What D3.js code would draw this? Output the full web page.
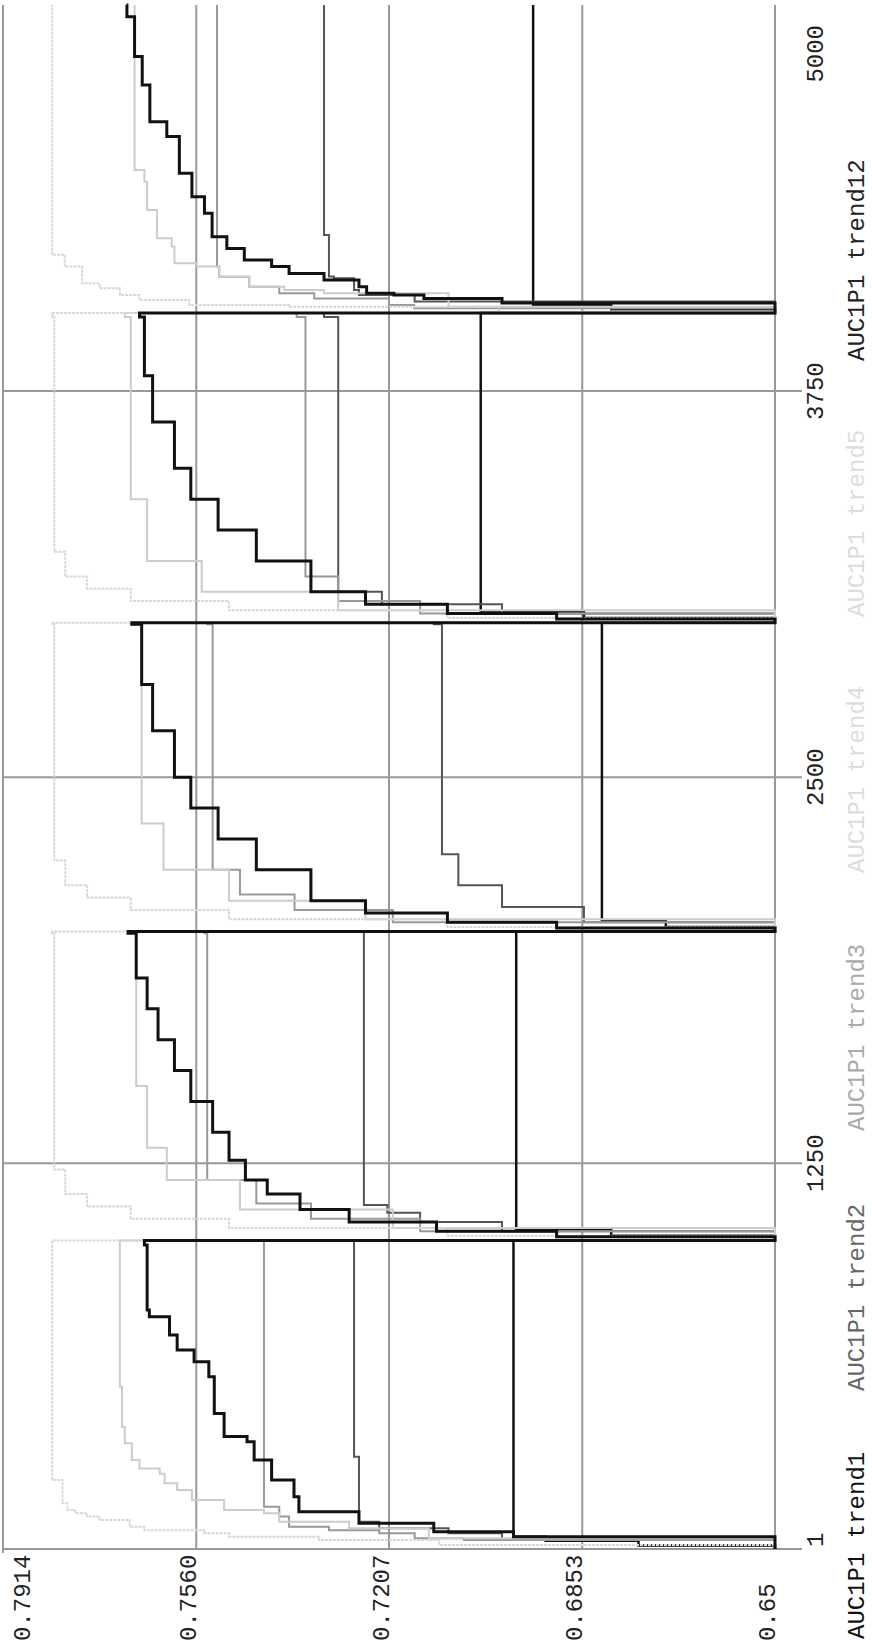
<!DOCTYPE html>
<html>
<head>
<meta charset="utf-8">
<script src="https://cdn.jsdelivr.net/npm/d3@7"></script>
<style>
  body { margin: 0; background: #fff; }
  svg { display: block; }
  text { font-family: "Liberation Mono", "DejaVu Sans Mono", monospace; font-size: 24px; }
</style>
</head>
<body>
<div id="wrapper"></div>
<script>
// axis ticks
const xTicks = [1, 1250, 2500, 3750, 5000]
const yTicks = [0.65, 0.6853, 0.7207, 0.7560, 0.7914]

// series: [iteration, AUC] break points, 5 runs of 1000 iterations
const trend1 = [
  [1, 0.65], [12, 0.675], [28, 0.692], [41, 0.6979], [995, 0.6979],
  [1000, 0.65], [1015, 0.68], [1034, 0.6974], [1995, 0.6974],
  [2000, 0.65], [2015, 0.67], [2035, 0.6817], [2995, 0.6817],
  [3000, 0.65], [3015, 0.685], [3035, 0.7039], [3990, 0.7039],
  [4003, 0.65], [4015, 0.68], [4029, 0.6943], [5000, 0.6943]
]
const trend2 = [
  [1, 0.65], [30, 0.70], [52, 0.7098], [68, 0.7225], [89, 0.7262], [300, 0.7271], [995, 0.7271],
  [1000, 0.65], [1030, 0.70], [1060, 0.715], [1090, 0.721], [1115, 0.7253], [1995, 0.7253],
  [2000, 0.65], [2030, 0.685], [2080, 0.700], [2150, 0.708], [2250, 0.711], [2995, 0.7125],
  [3000, 0.65], [3030, 0.70], [3060, 0.722], [3100, 0.730], [3990, 0.7326],
  [4003, 0.65], [4040, 0.716], [4061, 0.7262], [4077, 0.7271], [4115, 0.7308], [4121, 0.7317], [4255, 0.7326], [5000, 0.7326]
]
const trend3 = [
  [1, 0.65], [30, 0.707], [36, 0.716], [52, 0.7225], [62, 0.7317], [73, 0.739], [106, 0.7408], [138, 0.7436], [995, 0.7436],
  [1000, 0.65], [1030, 0.715], [1070, 0.735], [1120, 0.745], [1196, 0.754], [1995, 0.7545],
  [2000, 0.65], [2030, 0.72], [2070, 0.738], [2120, 0.748], [2200, 0.753], [2995, 0.754],
  [3000, 0.65], [3030, 0.715], [3070, 0.730], [3150, 0.736], [3990, 0.7376],
  [4003, 0.65], [4018, 0.7161], [4029, 0.7207], [4050, 0.7344], [4067, 0.7408], [4088, 0.7463], [4120, 0.7518], [4153, 0.7522], [5000, 0.7522]
]
const trend4 = [
  [1, 0.65], [36, 0.7134], [68, 0.728], [89, 0.7408], [117, 0.7436], [127, 0.7509], [160, 0.7568], [192, 0.7595],
  [214, 0.7618], [245, 0.7627], [262, 0.7664], [289, 0.7678], [343, 0.7691], [397, 0.7696], [526, 0.77], [995, 0.77],
  [1000, 0.65], [1040, 0.72], [1100, 0.748], [1196, 0.7614], [1300, 0.765], [1500, 0.767], [1995, 0.768],
  [2000, 0.65], [2040, 0.725], [2100, 0.750], [2200, 0.762], [2350, 0.766], [2995, 0.768],
  [3000, 0.65], [3040, 0.73], [3100, 0.755], [3200, 0.765], [3400, 0.768], [3990, 0.7691],
  [4003, 0.65], [4023, 0.7098], [4067, 0.7326], [4077, 0.7399], [4088, 0.7463], [4120, 0.7518], [4153, 0.7559],
  [4164, 0.76], [4218, 0.7605], [4245, 0.7632], [4309, 0.7632], [4336, 0.765], [4428, 0.7655], [4466, 0.7673], [5000, 0.7673]
]
const trend5 = [
  [1, 0.65], [14, 0.7115], [30, 0.7335], [41, 0.75], [52, 0.7546], [62, 0.7655], [73, 0.7682], [95, 0.7737],
  [106, 0.776], [117, 0.7782], [127, 0.7796], [149, 0.7805], [224, 0.7824], [995, 0.7824],
  [1000, 0.65], [1015, 0.71], [1040, 0.75], [1070, 0.768], [1110, 0.776], [1150, 0.780], [1230, 0.782], [1995, 0.7824],
  [2000, 0.65], [2015, 0.71], [2040, 0.75], [2070, 0.768], [2110, 0.776], [2150, 0.780], [2230, 0.782], [2995, 0.7824],
  [3000, 0.65], [3015, 0.71], [3040, 0.75], [3070, 0.768], [3110, 0.776], [3150, 0.780], [3230, 0.782], [3990, 0.7824],
  [4003, 0.65], [4007, 0.7006], [4023, 0.739], [4029, 0.7573], [4045, 0.7664], [4061, 0.77], [4083, 0.7737],
  [4099, 0.7769], [4153, 0.7801], [4191, 0.7824], [5000, 0.7824]
]
const trend12 = [
  [1, 0.65], [41, 0.6979], [57, 0.7125], [84, 0.7262], [122, 0.7372], [170, 0.7381], [224, 0.7422], [289, 0.7454],
  [348, 0.7467], [365, 0.7509], [440, 0.7527], [559, 0.7537], [607, 0.7564], [645, 0.7595], [694, 0.7609],
  [753, 0.7646], [775, 0.765], [985, 0.7655], [995, 0.7655],
  [1000, 0.65], [1012, 0.69], [1030, 0.712], [1060, 0.728], [1100, 0.737], [1150, 0.743], [1196, 0.747],
  [1260, 0.750], [1350, 0.753], [1450, 0.757], [1550, 0.760], [1650, 0.763], [1750, 0.765], [1850, 0.767], [1995, 0.7685],
  [2000, 0.65], [2012, 0.69], [2030, 0.71], [2060, 0.725], [2100, 0.735], [2200, 0.745], [2300, 0.752],
  [2400, 0.757], [2500, 0.760], [2650, 0.764], [2800, 0.766], [2995, 0.7678],
  [3000, 0.65], [3012, 0.69], [3030, 0.71], [3060, 0.725], [3100, 0.735], [3200, 0.745], [3300, 0.752],
  [3400, 0.757], [3500, 0.760], [3650, 0.764], [3800, 0.7655], [3990, 0.7664],
  [4003, 0.65], [4035, 0.70], [4050, 0.7143], [4061, 0.7198], [4067, 0.7248], [4088, 0.7262], [4110, 0.7326],
  [4131, 0.739], [4153, 0.7422], [4174, 0.7472], [4212, 0.7504], [4250, 0.7531], [4326, 0.7545], [4379, 0.7568],
  [4455, 0.7591], [4574, 0.7614], [4622, 0.7645], [4741, 0.7659], [4833, 0.7673], [4962, 0.7687], [5000, 0.7688]
]

const legendNames = ["AUC1P1 trend1", "AUC1P1 trend2", "AUC1P1 trend3", "AUC1P1 trend4", "AUC1P1 trend5", "AUC1P1 trend12"]
const seriesData = [trend1, trend2, trend3, trend4, trend5, trend12]
const seriesColors = ["#111", "#555", "#999", "#ccc", "#d8d8d8", "#111"]
const legendColors = ["#111", "#666", "#aaa", "#ddd", "#ddd", "#222"]
const seriesWidths = [2.5, 2, 2, 2, 2, 3]
const seriesDash = [null, null, null, null, "3,1", null]

// chart is drawn upright, then turned a quarter to the left
let dimensions = {
  width: 1641,
  height: 872,
  margin: { top: 3, right: 5, bottom: 97, left: 92 },
}
dimensions.boundedWidth = dimensions.width - dimensions.margin.left - dimensions.margin.right
dimensions.boundedHeight = dimensions.height - dimensions.margin.top - dimensions.margin.bottom

const wrapper = d3.select("#wrapper")
  .append("svg")
    .attr("width", dimensions.height)
    .attr("height", dimensions.width)

const chart = wrapper.append("g")
    .attr("transform", `translate(0,${dimensions.width}) rotate(-90)`)

const bounds = chart.append("g")
    .attr("transform", `translate(${dimensions.margin.left},${dimensions.margin.top})`)

const xScale = d3.scaleLinear()
    .domain([1, 5000])
    .range([0, dimensions.boundedWidth])
const yScale = d3.scaleLinear()
    .domain([0.65, 0.7914])
    .range([dimensions.boundedHeight, 0])

const gridColor = "#999"

// horizontal grid lines
bounds.append("g").selectAll("line")
  .data(yTicks)
  .join("line")
    .attr("x1", d => d === 0.7914 ? -4 : 0)
    .attr("x2", dimensions.boundedWidth)
    .attr("y1", d => yScale(d))
    .attr("y2", d => yScale(d))
    .attr("stroke", gridColor)
    .attr("stroke-width", 2)

// vertical grid lines, running down past the axis as ticks
bounds.append("g").selectAll("line")
  .data(xTicks.slice(0, -1))
  .join("line")
    .attr("x1", d => xScale(d))
    .attr("x2", d => xScale(d))
    .attr("y1", 0)
    .attr("y2", dimensions.boundedHeight + 27)
    .attr("stroke", gridColor)
    .attr("stroke-width", 2)

// y labels
chart.append("g").selectAll("text")
  .data(yTicks)
  .join("text")
    .attr("x", 0)
    .attr("y", d => Math.max(dimensions.margin.top + yScale(d), 30))
    .attr("fill", "#222")
    .text(d => d === 0.65 ? "0.65" : d3.format(".4f")(d))

// x labels
chart.append("g").selectAll("text")
  .data(xTicks)
  .join("text")
    .attr("x", (d, i) => {
      const px = dimensions.margin.left + xScale(d)
      if (i === 0) return px + 2
      if (i === xTicks.length - 1) return 1616
      return px
    })
    .attr("y", 823)
    .attr("text-anchor", (d, i) => i === 0 ? "start" : i === xTicks.length - 1 ? "end" : "middle")
    .attr("fill", "#222")
    .text(d => d)

// lines
const lineGenerator = d3.line()
    .x(d => xScale(d[0]))
    .y(d => yScale(d[1]))
    .curve(d3.curveStepAfter)

bounds.append("g").selectAll("path")
  .data(seriesData)
  .join("path")
    .attr("d", d => lineGenerator(d))
    .attr("fill", "none")
    .attr("stroke", (d, i) => seriesColors[i])
    .attr("stroke-width", (d, i) => seriesWidths[i])
    .attr("stroke-dasharray", (d, i) => seriesDash[i])

// legend
const legendX = [2, 250, 510, 768, 1024, 1280]
chart.append("g").selectAll("text")
  .data(legendNames)
  .join("text")
    .attr("x", (d, i) => legendX[i])
    .attr("y", 864)
    .attr("fill", (d, i) => legendColors[i])
    .text(d => d)
</script>
</body>
</html>
